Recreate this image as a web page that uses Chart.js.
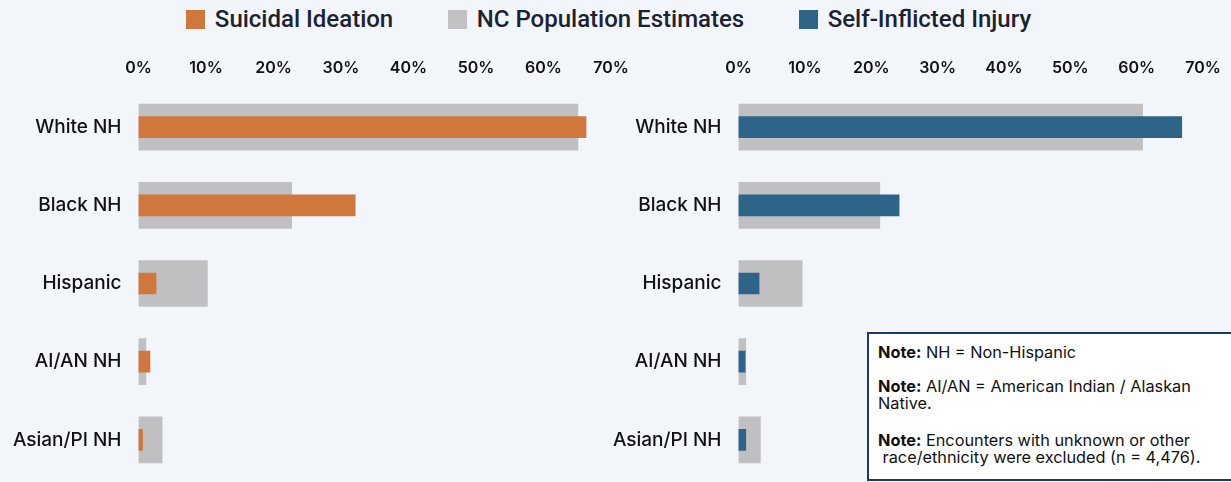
<!DOCTYPE html>
<html>
<head>
<meta charset="utf-8">
<script src="https://cdn.jsdelivr.net/npm/chart.js@4"></script>
<style>
  body { margin: 0; background: #f2f5fa; width: 1231px; height: 482px; overflow: hidden; position: relative; font-family: Inter, sans-serif; }
  #legend { position: absolute; top: 4px; left: -7px; width: 1231px; text-align: center; white-space: nowrap; }
  .item { display: inline-block; margin: 0 25px; font-family: Roboto, sans-serif; font-size: 24px; font-weight: 500; color: #1b2333; line-height: 30px; }
  .box { display: inline-block; width: 19px; height: 19px; vertical-align: -2px; margin-right: 10px; }
  canvas { position: absolute; top: 40px; }
  #note { position: absolute; left: 867px; top: 332px; width: 380px; height: 149px; box-sizing: border-box;
          border: 2px solid #1f3a5a; background: #fff; padding: 10px 0 0 9px; font-size: 16.3px; color: #111; line-height: 17px; }
  #note p { margin: 0 0 17px 0; }
  #note p.last { margin-top: 20px; }
  b { font-weight: 700; }
</style>
</head>
<body>
<div id="legend">
  <span class="item"><span class="box" style="background:#cf773d"></span>Suicidal Ideation</span>
  <span class="item"><span class="box" style="background:#c2c2c4"></span>NC Population Estimates</span>
  <span class="item"><span class="box" style="background:#2e6487"></span>Self-Inflicted Injury</span>
</div>
<canvas id="leftChart" width="640" height="442" style="left:0px"></canvas>
<canvas id="rightChart" width="631" height="442" style="left:600px"></canvas>
<div id="note">
  <p><b>Note:</b> NH = Non-Hispanic</p>
  <p style="margin-bottom:0"><b>Note:</b> AI/AN = American Indian / Alaskan<br>Native.</p>
  <p class="last"><b>Note:</b> Encounters with unknown or other<br>&nbsp;race/ethnicity were excluded (n = 4,476).</p>
</div>
<script>
// values (percent of encounters / population)
const categories = ['White NH', 'Black NH', 'Hispanic', 'AI/AN NH', 'Asian/PI NH'];
const ideation = [66.3, 32.1, 2.6, 1.7, 0.6];
const popLeft = [65.1, 22.7, 10.2, 1.1, 3.5];
const injury = [66.8, 24.2, 3.1, 1.0, 1.1];
const popRight = [60.9, 21.3, 9.6, 1.1, 3.3];
const xTicks = [0, 10, 20, 30, 40, 50, 60, 70];

const orange = '#cf773d';
const grey = '#c0c0c2';
const blue = '#2e6487';

function makeChart(id, label, values, pop, color, padRight) {
    let ctx = document.getElementById(id).getContext('2d');
    return new Chart(ctx, {
        type: 'bar',
        data: {
            labels: categories,
            datasets: [{
                label: label,
                data: values,
                backgroundColor: color,
                grouped: false,
                barThickness: 21
            }, {
                label: 'NC Population Estimates',
                data: pop,
                backgroundColor: grey,
                grouped: false,
                barThickness: 46
            }]
        },
        options: {
            indexAxis: 'y',
            responsive: false,
            animation: false,
            layout: { padding: { left: 0, right: padRight, top: 0, bottom: 3 } },
            plugins: { legend: { display: false }, tooltip: { enabled: false } },
            scales: {
                x: {
                    position: 'top',
                    min: xTicks[0],
                    max: xTicks[xTicks.length - 1],
                    afterBuildTicks: function (scale) {
                        scale.ticks = xTicks.map(v => ({ value: v }));
                    },
                    afterFit: function (scale) { scale.height = 48; },
                    grid: { display: false, drawTicks: false },
                    border: { display: false },
                    ticks: {
                        padding: 10,
                        color: '#111',
                        font: { family: 'Inter', size: 16, weight: '600' },
                        callback: v => v + '%'
                    }
                },
                y: {
                    afterFit: function (scale) {
                        scale.width = 138.5;
                        scale.paddingTop = 0;
                        scale.paddingBottom = 0;
                    },
                    grid: { display: false, drawTicks: false },
                    border: { display: false },
                    ticks: {
                        padding: 17,
                        color: '#111',
                        font: { family: 'Inter', size: 19, weight: '500' }
                    }
                }
            }
        }
    });
}

makeChart('leftChart', 'Suicidal Ideation', ideation, popLeft, orange, 29);
makeChart('rightChart', 'Self-Inflicted Injury', injury, popRight, blue, 28);
</script>
</body>
</html>
